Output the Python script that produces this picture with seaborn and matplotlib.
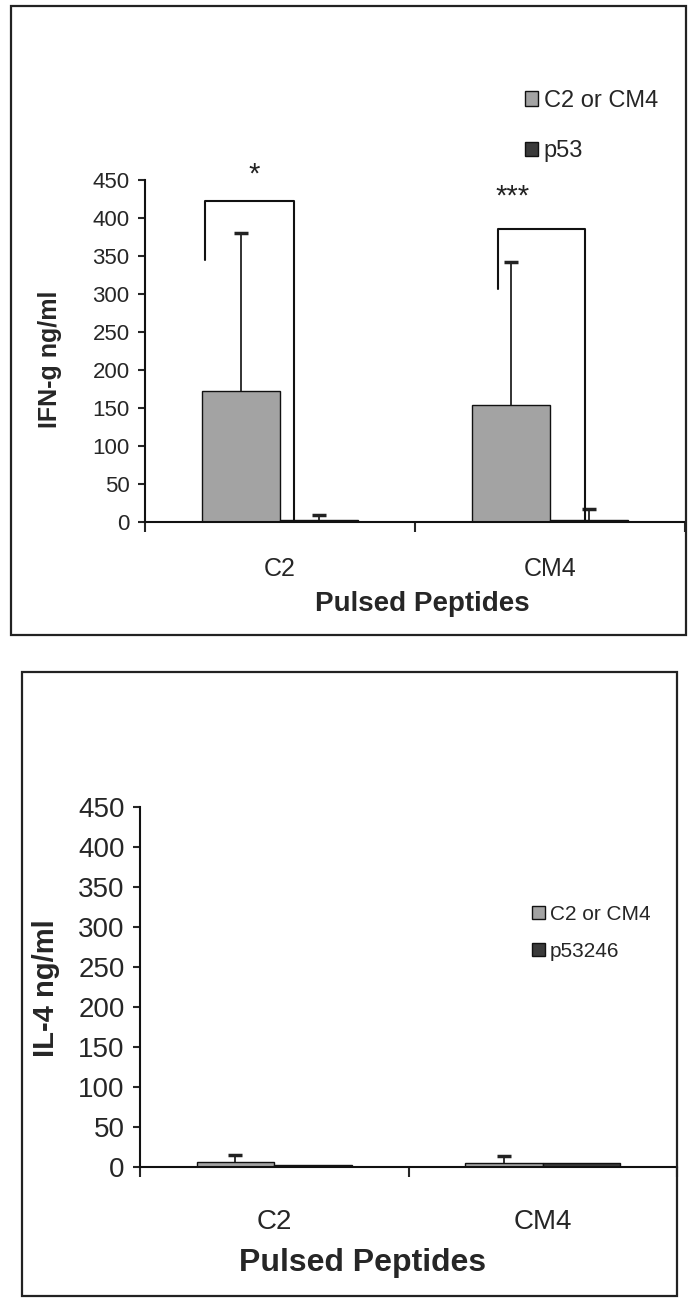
import matplotlib
matplotlib.use("Agg")
import matplotlib.pyplot as plt
from matplotlib.patches import Rectangle
import seaborn as sns
import pandas as pd

sns.set_theme(style="ticks")
plt.rcParams["font.family"] = ["Liberation Sans", "DejaVu Sans"]

# data
categories = ["C2", "CM4"]
groups_top = ["C2 or CM4", "p53"]
groups_bottom = ["C2 or CM4", "p53246"]

ifn_peptide = [173, 154]
ifn_p53 = [2, 2]
ifn_peptide_err = [207, 188]
ifn_p53_err = [7, 15]

il4_peptide = [6, 5]
il4_p53 = [2, 5]
il4_peptide_err = [9, 9]
il4_p53_err = [0, 0]

# significance brackets (top panel)
sig_left = [-0.278, 0.807]
sig_right = [0.05, 1.13]
sig_low = [345, 307]
sig_top = [423, 385]
sig_text = ["*", "***"]
sig_text_x = [-0.096, 0.86]
sig_text_y = [457, 428]

gray = "#a3a3a3"
dark = "#3a3a3a"

W, H = 689, 1304
fig = plt.figure(figsize=(W / 100, H / 100), dpi=100)


def px_axes(left, top, right, bottom):
    return fig.add_axes([left / W, 1 - bottom / H, (right - left) / W, (bottom - top) / H])


def draw_panel(ax, pep, p53, pep_err, p53_err, groups, tick_fs, xt_fs, xl_fs, xt_pad):
    df = pd.DataFrame({
        "Peptide": categories * 2,
        "Group": [groups[0]] * 2 + [groups[1]] * 2,
        "Value": pep + p53,
    })
    sns.barplot(data=df, x="Peptide", y="Value", hue="Group",
                palette=[gray, dark], width=0.578, edgecolor="#111111",
                linewidth=1.0, errorbar=None, ax=ax)
    errs = [pep_err, p53_err]
    for container, err in zip(ax.containers, errs):
        for bar, e in zip(container, err):
            if e <= 0:
                continue
            x = bar.get_x() + bar.get_width() / 2
            _, caps, _ = ax.errorbar(x, bar.get_height(), yerr=[[0], [e]], fmt="none",
                                     ecolor="#222222", elinewidth=1.3, capsize=5,
                                     capthick=2.5)
            # only the upper cap, like the original
            caps[0].set_visible(False)
    ax.set_ylim(0, 450)
    ax.set_xlim(-0.5, 1.5)
    ax.set_yticks(range(0, 451, 50))
    ax.tick_params(axis="y", labelsize=tick_fs, length=5, width=1.5, direction="out", pad=6)
    ax.set_xticks([0, 1])
    ax.set_xticklabels(categories)
    ax.set_xticks([-0.5, 0.5, 1.5], minor=True)
    ax.tick_params(axis="x", which="major", length=0, labelsize=xt_fs, pad=xt_pad)
    ax.tick_params(axis="x", which="minor", length=7, width=1.5, direction="out")
    for s in ["top", "right"]:
        ax.spines[s].set_visible(False)
    for s in ["left", "bottom"]:
        ax.spines[s].set_linewidth(1.5)
        ax.spines[s].set_color("#111111")
    ax.set_xlabel("Pulsed Peptides", fontsize=xl_fs, fontweight="bold")
    ax.xaxis.label.set_va("center")
    ax.set_facecolor("white")
    handles, labels = ax.get_legend_handles_labels()
    ax.get_legend().remove()
    return handles, labels


# top panel: IFN-g
ax1 = px_axes(145, 180, 685, 522)
h1, l1 = draw_panel(ax1, ifn_peptide, ifn_p53, ifn_peptide_err, ifn_p53_err,
                    groups_top, 16, 18, 20, 25)
ax1.set_ylabel("IFN-g ng/ml", fontsize=18, fontweight="bold")
ax1.yaxis.label.set_va("center")
ax1.yaxis.set_label_coords(-0.176, 0.477)
ax1.xaxis.set_label_coords(0.513, -0.24)

for xl, xr, lo, hi, t, tx, ty in zip(sig_left, sig_right, sig_low, sig_top,
                                     sig_text, sig_text_x, sig_text_y):
    ax1.plot([xl, xl, xr, xr], [lo, hi, hi, 0], color="#111111", lw=1.5,
             clip_on=False)
    ax1.text(tx, ty, t, ha="center", va="center", fontsize=21, color="#222222")

fig.legend(h1, l1, loc="center left", bbox_to_anchor=(513 / W, 1 - 126 / H),
           frameon=False, fontsize=17, handlelength=0.55, handleheight=0.55,
           handletextpad=0.25, labelspacing=1.2, borderpad=0)

# bottom panel: IL-4
ax2 = px_axes(140, 807, 677, 1167)
h2, l2 = draw_panel(ax2, il4_peptide, il4_p53, il4_peptide_err, il4_p53_err,
                    groups_bottom, 20, 20, 23, 30)
ax2.set_ylabel("IL-4 ng/ml", fontsize=21, fontweight="bold")
ax2.yaxis.label.set_va("center")
ax2.yaxis.set_label_coords(-0.175, 0.497)
ax2.xaxis.set_label_coords(0.415, -0.267)

fig.legend(h2, l2, loc="center left", bbox_to_anchor=(522 / W, 1 - 933 / H),
           frameon=False, fontsize=15, handlelength=0.6, handleheight=0.6,
           handletextpad=0.25, labelspacing=0.85, borderpad=0)

# outer frames around each panel
for (x0, y0, x1, y1) in [(11, 6, 686, 635), (22, 672, 677, 1296)]:
    fig.add_artist(Rectangle((x0 / W, 1 - y1 / H), (x1 - x0) / W, (y1 - y0) / H,
                             transform=fig.transFigure, fill=False,
                             edgecolor="#222222", linewidth=1.6))

fig.savefig("out.png", dpi=100, facecolor="white")
